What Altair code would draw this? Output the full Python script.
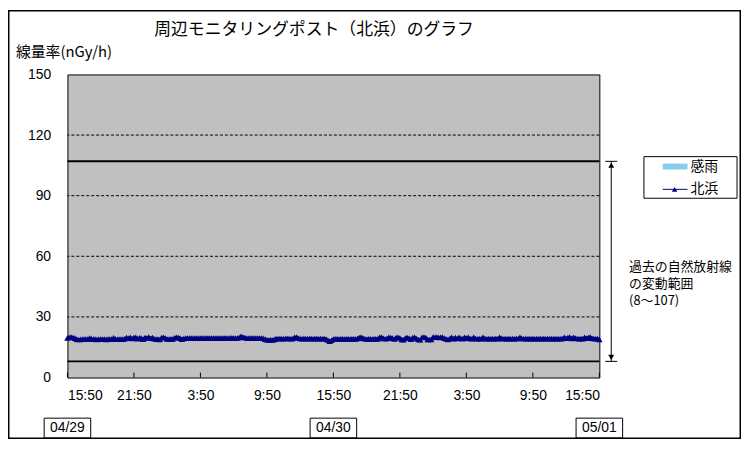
import altair as alt
import pandas as pd

# ---- data ----
kitahama = [
    # 04/29 15:50 - 21:50
    19.6, 19.9, 20.0, 19.8, 19.5, 19.0, 18.8, 18.9, 19.0, 19.0, 19.1, 19.0,
    19.6, 19.2, 19.0, 19.1, 18.9, 19.0, 19.0, 19.1, 19.0, 18.9, 19.0, 19.1,
    19.0, 19.7, 19.1, 19.0, 19.0, 19.1, 19.0, 19.2, 19.8, 19.4, 19.9, 19.3,
    # 21:50 - 3:50
    19.8, 19.9, 19.2, 19.7, 19.5, 19.0, 19.8, 19.6, 20.0, 19.4, 19.8, 19.2,
    19.0, 19.1, 18.8, 19.8, 19.9, 19.6, 19.1, 19.0, 19.2, 19.1, 19.7, 19.9,
    19.8, 19.5, 19.0, 19.3, 19.5, 19.6, 19.5, 19.6, 19.5, 19.6, 19.5, 19.6,
    # 3:50 - 9:50
    19.5, 19.6, 19.5, 19.6, 19.6, 19.5, 19.6, 19.5, 19.6, 19.6, 19.5, 19.6,
    19.5, 19.6, 19.6, 19.5, 19.6, 19.7, 19.6, 19.5, 19.6, 19.8, 20.4, 20.1,
    19.8, 19.6, 19.5, 19.6, 19.6, 19.5, 19.6, 19.6, 19.5, 19.6, 19.4, 19.0,
    # 9:50 - 15:50
    18.7, 18.6, 18.8, 18.6, 18.9, 19.3, 19.2, 19.3, 19.3, 19.2, 19.3, 19.4,
    19.3, 19.2, 19.3, 19.9, 20.0, 19.6, 19.3, 19.2, 19.3, 19.3, 19.2, 19.3,
    19.3, 19.2, 19.3, 19.3, 19.2, 19.3, 19.2, 19.3, 19.1, 18.6, 18.0, 18.5,
    # 04/30 15:50 - 21:50
    19.1, 19.2, 19.2, 19.1, 19.2, 19.2, 19.1, 19.2, 19.2, 19.1, 19.2, 19.2,
    19.1, 19.3, 19.8, 20.0, 19.5, 19.2, 19.1, 19.2, 19.2, 19.1, 19.2, 19.2,
    19.1, 19.9, 20.0, 19.4, 19.2, 19.3, 19.9, 19.8, 19.5, 19.1, 19.8, 19.9,
    # 21:50 - 3:50
    19.6, 18.9, 18.7, 19.6, 19.8, 19.4, 19.0, 19.8, 19.9, 19.3, 18.8, 18.7,
    19.9, 20.0, 19.8, 18.9, 18.8, 18.9, 20.0, 19.9, 20.0, 19.8, 19.9, 20.0,
    19.5, 19.2, 18.8, 19.3, 19.9, 19.2, 19.8, 19.3, 19.9, 19.4, 19.2, 19.9,
    # 3:50 - 9:50
    19.5, 19.9, 19.3, 19.2, 19.9, 19.3, 19.2, 19.3, 19.2, 19.9, 19.3, 19.2,
    19.3, 19.2, 19.3, 19.2, 19.3, 19.2, 19.9, 19.4, 19.2, 19.3, 19.2, 19.3,
    19.2, 19.3, 19.2, 19.3, 19.3, 19.9, 19.4, 19.2, 19.3, 19.2, 19.3, 19.2,
    # 9:50 - 05/01 15:50
    19.3, 19.2, 19.3, 19.2, 19.3, 19.2, 19.3, 19.2, 19.3, 19.2, 19.3, 19.2,
    19.3, 19.2, 19.3, 19.2, 19.3, 19.9, 19.4, 19.8, 20.0, 19.3, 19.9, 19.5,
    19.3, 19.2, 19.3, 19.2, 19.9, 19.4, 19.8, 20.0, 19.5, 19.3, 19.2, 19.3,
    18.9,
]
assert len(kitahama) == 289

tick_labels = ["15:50", "21:50", "3:50", "9:50", "15:50", "21:50", "3:50", "9:50", "15:50"]
tick_pos = [0, 36, 72, 108, 144, 180, 216, 252, 288]
date_labels = ["04/29", "04/30", "05/01"]
date_pos = [0, 144, 288]
y_ticks = [0, 30, 60, 90, 120, 150]
grid_vals = [30, 60, 90, 120]
range_low, range_high = 8, 107
title_text = "周辺モニタリングポスト（北浜）のグラフ"
y_title = "線量率(nGy/h)"
series_name = "北浜"
rain_name = "感雨"
note_text = "過去の自然放射線\nの変動範囲\n(8～107)"

# ---- layout ----
W, H = 537, 306
PAD = {"left": 60, "top": 65, "right": 143, "bottom": 62}
JP = "Noto Sans CJK JP"
NUM = "Liberation Sans"
NAVY = "#000080"

xscale = alt.Scale(domain=[0, 288], nice=False, zero=False)
yscale = alt.Scale(domain=[0, 150], nice=False)

df = pd.DataFrame({"i": list(range(len(kitahama))), "v": kitahama})

label_expr = "[" + ",".join(f"'{t}'" for t in tick_labels) + "][round(datum.value/36)]"

x_axis = alt.Axis(values=tick_pos, labelExpr=label_expr, ticks=False, domain=False, grid=False,
                  labelPadding=11, labelFontSize=14, labelFont=NUM, labelColor="black", title=None)
y_axis = alt.Axis(values=y_ticks, ticks=False, domain=False, grid=False, labelPadding=17,
                  labelFontSize=14, labelFont=NUM, labelColor="black", title=None)


def X(field):
    return alt.X(field, scale=xscale, axis=x_axis)


def Y(field):
    return alt.Y(field, scale=yscale, axis=y_axis)


line = alt.Chart(df).mark_line(
    color=NAVY, strokeWidth=2.5,
    point=alt.OverlayMarkDef(shape="triangle-up", filled=True, size=42, color=NAVY, opacity=1),
).encode(x=X("i:Q"), y=Y("v:Q"))

grid = alt.Chart(pd.DataFrame({"g": grid_vals})).mark_rule(
    color="black", strokeDash=[3, 2], strokeWidth=1
).encode(y=Y("g:Q"))

ranges = alt.Chart(pd.DataFrame({"r": [range_low, range_high]})).mark_rule(
    color="black", strokeWidth=2
).encode(y=Y("r:Q"))

ticks = alt.Chart(pd.DataFrame({"t": tick_pos})).mark_rule(color="black").encode(
    x=X("t:Q"), y=alt.value(H), y2=alt.value(H - 5)
)

# range arrow
arr_df = pd.DataFrame({"a": [range_high], "b": [range_low]})
arrow = alt.Chart(arr_df).mark_rule(color="black", strokeWidth=1).encode(
    x=alt.value(549), y=Y("a:Q"), y2="b:Q"
)
caps = alt.Chart(pd.DataFrame({"r": [range_low, range_high]})).mark_rule(color="black").encode(
    y=Y("r:Q"), x=alt.value(543), x2=alt.value(555)
)
head_up = alt.Chart(pd.DataFrame({"r": [range_high]})).mark_point(
    shape="triangle-up", filled=True, color="black", size=35, opacity=1, yOffset=4
).encode(y=Y("r:Q"), x=alt.value(549))
head_dn = alt.Chart(pd.DataFrame({"r": [range_low]})).mark_point(
    shape="triangle-down", filled=True, color="black", size=35, opacity=1, yOffset=-4
).encode(y=Y("r:Q"), x=alt.value(549))

note = alt.Chart(pd.DataFrame({"s": [note_text]})).mark_text(
    align="left", baseline="middle", font=JP, fontSize=13, lineBreak="\n", lineHeight=17.5, color="black"
).encode(x=alt.value(567), y=alt.value(194), text="s:N")

# legend
one = pd.DataFrame({"k": [0]})
leg_box = alt.Chart(one).mark_rect(fill="white", stroke="black", strokeWidth=1).encode(
    x=alt.value(582), x2=alt.value(676), y=alt.value(83), y2=alt.value(125)
)
leg_rain = alt.Chart(one).mark_rect(color="#87CEEB").encode(
    x=alt.value(601), x2=alt.value(626), y=alt.value(90), y2=alt.value(96)
)
leg_line = alt.Chart(one).mark_rule(color=NAVY, strokeWidth=1).encode(
    x=alt.value(601), x2=alt.value(626), y=alt.value(116)
)
leg_pt = alt.Chart(one).mark_point(shape="triangle-up", filled=True, color=NAVY, size=30, opacity=1).encode(
    x=alt.value(613), y=alt.value(116)
)
leg_text = alt.Chart(pd.DataFrame({"n": [rain_name, series_name], "yy": [93, 116]})).mark_text(
    align="left", baseline="middle", font=JP, fontSize=14, color="black"
).encode(x=alt.value(629), y=alt.Y("yy:Q", scale=None, axis=None), text="n:N")

# date boxes
half = 23.5 * 288 / W
ddf = pd.DataFrame({"p": date_pos, "lab": date_labels})
ddf["lo"] = ddf["p"] - half
ddf["hi"] = ddf["p"] + half
date_box = alt.Chart(ddf).mark_rect(fill="white", stroke="black", strokeWidth=1).encode(
    x=X("lo:Q"), x2="hi:Q", y=alt.value(347), y2=alt.value(367)
)
date_txt = alt.Chart(ddf).mark_text(font=NUM, fontSize=14, color="black", baseline="middle").encode(
    x=X("p:Q"), y=alt.value(357), text="lab:N"
)

title = alt.Chart(pd.DataFrame({"s": [title_text]})).mark_text(
    font=JP, fontSize=17, color="black", baseline="middle", align="center"
).encode(x=alt.value(249), y=alt.value(-45), text="s:N")
ytitle = alt.Chart(pd.DataFrame({"s": [y_title]})).mark_text(
    font=JP, fontSize=15, color="black", baseline="middle", align="left"
).encode(x=alt.value(-52), y=alt.value(-23), text="s:N")

border = alt.Chart(one).mark_rect(fillOpacity=0, stroke="black", strokeWidth=1.5).encode(
    x=alt.value(-59.25), x2=alt.value(679.25), y=alt.value(-64.25), y2=alt.value(367.25)
)

chart = alt.layer(
    line, grid, ranges, ticks, arrow, caps, head_up, head_dn, note,
    leg_box, leg_rain, leg_line, leg_pt, leg_text, date_box, date_txt, title, ytitle, border
).properties(
    width=W, height=H, padding=PAD, autosize=alt.AutoSizeParams(type="none"), background="white"
).configure_view(
    fill="#C0C0C0", stroke="black", strokeWidth=1
)

chart.save("out.html", embed_options={"renderer": "svg", "actions": False})
